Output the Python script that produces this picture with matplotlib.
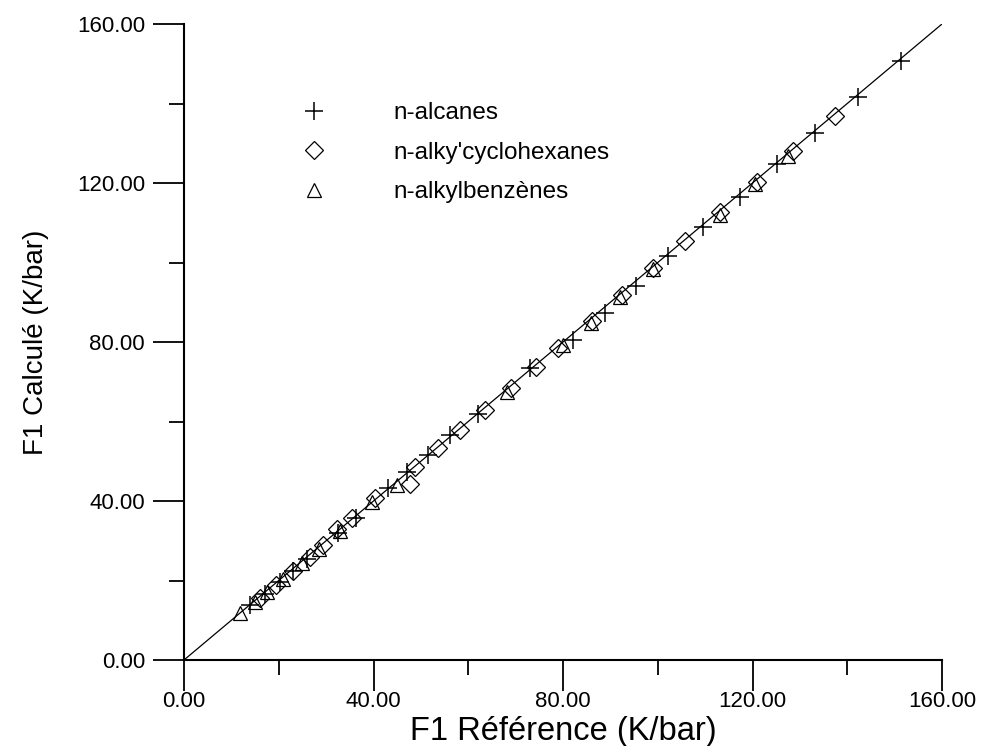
import matplotlib
matplotlib.use("Agg")
import matplotlib.pyplot as plt
from matplotlib.ticker import MultipleLocator, FormatStrFormatter

plt.rcParams['font.family'] = ['Liberation Sans', 'DejaVu Sans']

# n-alcanes (+)
alk_x = [14.0, 17.1, 20.3, 23.1, 26.0, 32.6, 36.4, 43.1, 47.0, 51.6, 56.1, 62.1, 73.0,
         82.2, 88.9, 95.5, 102.2, 109.6, 117.4, 125.2, 133.2, 142.3, 151.3]
alk_y = [13.8, 16.5, 19.5, 22.4, 25.5, 31.9, 35.6, 43.2, 47.4, 51.6, 56.6, 62.0, 73.4,
         80.5, 87.2, 94.2, 101.6, 109.0, 116.6, 124.7, 132.7, 141.6, 150.6]

# n-alkylcyclohexanes (diamonds)
cyc_x = [16.0, 19.5, 23.0, 26.5, 29.4, 32.4, 35.5, 40.3, 47.7, 48.8, 53.7, 58.3, 63.5,
         69.1, 74.4, 79.0, 86.1, 92.4, 99.1, 105.8, 113.1, 120.9, 128.6, 137.4]
cyc_y = [15.5, 18.8, 22.5, 25.8, 28.9, 33.0, 35.8, 40.7, 44.4, 48.6, 53.3, 57.9, 62.9,
         68.4, 73.8, 78.4, 85.4, 91.8, 98.6, 105.3, 112.6, 120.3, 128.0, 136.8]

# n-alkylbenzenes (triangles)
benz_x = [11.8, 15.0, 17.5, 21.0, 25.0, 28.5, 33.0, 39.6, 44.9, 68.1, 80.0, 86.0, 92.0,
          99.0, 113.1, 120.5, 127.5]
benz_y = [11.7, 14.5, 17.0, 20.5, 24.5, 28.0, 32.5, 39.8, 44.0, 67.5, 79.2, 84.8, 91.4,
          98.3, 112.0, 119.8, 126.9]

diag = [0.0, 160.0]

fig = plt.figure(figsize=(9.84, 7.46), dpi=100)
ax = fig.add_axes([184/984, 1-660/746, 758/984, 636/746])

ax.plot(diag, diag, color='black', lw=0.9, zorder=1)
l1, = ax.plot(alk_x, alk_y, linestyle='none', marker='+', ms=13, mew=1.1,
              color='black', label='n-alcanes', zorder=3)
l2, = ax.plot(cyc_x, cyc_y, linestyle='none', marker='D', ms=9, mew=0.9,
              mfc='none', mec='black', label='n-alky\'cyclohexanes', zorder=2)
l3, = ax.plot(benz_x, benz_y, linestyle='none', marker='^', ms=10, mew=0.9,
              mfc='none', mec='black', label='n-alkylbenzènes', zorder=2)

ax.set_xlim(0, 160)
ax.set_ylim(0, 160)
for s in ['top', 'right']:
    ax.spines[s].set_visible(False)
for s in ['left', 'bottom']:
    ax.spines[s].set_linewidth(1.5)

ax.xaxis.set_major_locator(MultipleLocator(40))
ax.xaxis.set_minor_locator(MultipleLocator(20))
ax.yaxis.set_major_locator(MultipleLocator(40))
ax.yaxis.set_minor_locator(MultipleLocator(20))
ax.xaxis.set_major_formatter(FormatStrFormatter('%.2f'))
ax.yaxis.set_major_formatter(FormatStrFormatter('%.2f'))
ax.tick_params(which='major', direction='out', length=22, width=1.3, labelsize=16)
ax.tick_params(axis='x', which='major', pad=0)
ax.tick_params(axis='y', which='major', pad=6)
ax.tick_params(which='minor', direction='out', length=11, width=1.3)

ax.set_xlabel('F1 Référence (K/bar)', fontsize=23.5, labelpad=3)
ax.set_ylabel('F1 Calculé (K/bar)', fontsize=20, labelpad=20)

leg = ax.legend(handles=[l1, l2, l3], loc='upper left', bbox_to_anchor=(0.156, 0.877),
                frameon=False, fontsize=17.5, numpoints=1, handlelength=1.0,
                handletextpad=2.75, labelspacing=0.72, borderpad=0, borderaxespad=0)

fig.savefig('out.png', dpi=100)
